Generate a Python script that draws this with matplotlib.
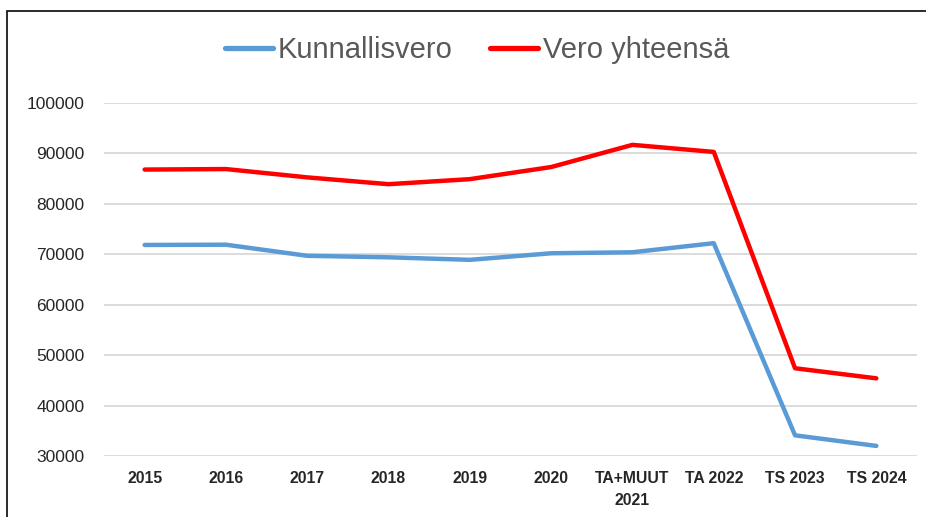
import matplotlib.pyplot as plt
from matplotlib.patches import Rectangle

categories = ['2015', '2016', '2017', '2018', '2019', '2020',
              'TA+MUUT\n2021', 'TA 2022', 'TS 2023', 'TS 2024']
kunnallisvero = [71850, 71900, 69700, 69400, 68900, 70200, 70400, 72200, 34100, 32000]
vero_yhteensa = [86800, 86900, 85250, 83900, 84900, 87300, 91700, 90300, 47400, 45400]
y_ticks = [30000, 40000, 50000, 60000, 70000, 80000, 90000, 100000]

W, H = 926, 517
fig = plt.figure(figsize=(W / 100, H / 100), dpi=100)
fig.patch.set_facecolor('white')

# plot area in pixel coords of the reference
left, right, top, bottom = 104, 917, 103, 456
ax = fig.add_axes([left / W, 1 - bottom / H, (right - left) / W, (bottom - top) / H])

x = range(len(categories))
ax.plot(x, kunnallisvero, color='#5B9BD5', lw=3.2, solid_capstyle='round',
        solid_joinstyle='round', label='Kunnallisvero', zorder=3)
ax.plot(x, vero_yhteensa, color='#FF0000', lw=3.2, solid_capstyle='round',
        solid_joinstyle='round', label='Vero yhteensä', zorder=3)

ax.set_xlim(-0.5, len(categories) - 0.5)
ax.set_ylim(30000, 100000)
ax.set_yticks(y_ticks)
ax.set_yticklabels([str(v) for v in y_ticks], fontfamily='Liberation Sans',
                   fontsize=12.5, color='#262626')
ax.set_xticks(list(x))
ax.set_xticklabels(categories, fontfamily='Liberation Sans', fontsize=11.3,
                   fontweight='bold', color='#262626', linespacing=1.6)
ax.tick_params(axis='y', length=0, pad=14)
ax.tick_params(axis='x', length=0, pad=11)

ax.grid(axis='y', color='#D9D9D9', lw=1.3)
ax.set_axisbelow(True)
for s in ax.spines.values():
    s.set_visible(False)

fig.legend(loc='center', bbox_to_anchor=(477 / W, 1 - 50 / H), ncol=2,
           frameon=False, handlelength=1.65, handletextpad=0.15,
           columnspacing=1.3, prop={'family': 'Liberation Sans', 'size': 21},
           labelcolor='#595959')
for line in fig.legends[0].get_lines():
    line.set_linewidth(3.8)

# outer chart border (cut off on right and bottom)
fig.patches.append(Rectangle((7 / W, -0.1), 1.1, 1.1 - 11 / H,
                             transform=fig.transFigure, fill=False,
                             edgecolor='#1a1a1a', lw=1.3))

fig.savefig('out.png', dpi=100)
